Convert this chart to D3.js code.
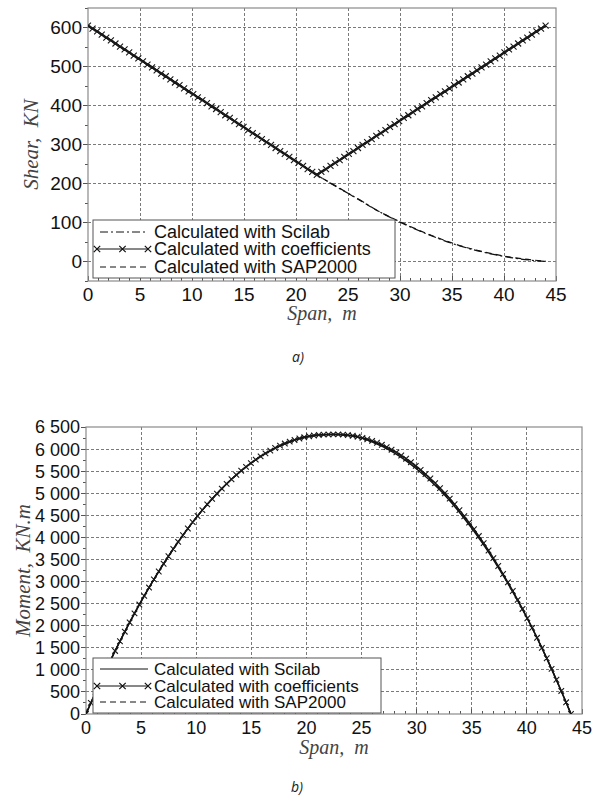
<!DOCTYPE html>
<html><head><meta charset="utf-8">
<script src="https://cdn.jsdelivr.net/npm/d3@7"></script>
<style>
html,body{margin:0;padding:0;background:#fff;}
svg{display:block;}
</style></head>
<body>
<svg id="c" width="595" height="795"></svg>
<script>
// ---------- DATA ----------
const stationStep = 0.44; // m, station spacing of the "coefficients" series
const spanTicks = [0,5,10,15,20,25,30,35,40,45];
const shearTicks = [0,100,200,300,400,500,600];
const momentTicks = [0,500,1000,1500,2000,2500,3000,3500,4000,4500,5000,5500,6000,6500];

const shearCoef = [605,597,590,582,574,567,559,551,544,536,528,521,513,505,498,490,482,475,467,459,452,444,436,429,421,414,406,398,391,383,375,368,360,352,345,337,329,322,314,306,299,291,283,276,268,260,253,245,237,230,222,
230,237,245,253,260,268,276,283,291,299,306,314,322,329,337,345,352,360,368,375,383,391,398,406,414,421,429,436,444,452,459,467,475,482,490,498,505,513,521,528,536,544,551,559,567,574,582,590,597,605];

const curveSpan = [0,2,4,6,8,10,12,14,16,18,20,22,24,26,28,30,32,34,36,38,40,42,44];
const shearScilab = [605,570,535,501,466,431,396,361,326,292,257,222,190,160,128,101,77,56,38,24,13,5,0];
const shearSap    = [605,570,535,501,466,431,396,361,326,292,257,222,191,159,128,102,78,57,39,25,14,6,1];

const momentCoef = [0,251,496,737,972,1203,1428,1648,1864,2074,2279,2479,2674,2864,3049,3228,3403,3573,3737,3897,4051,4201,4345,4484,4618,4748,4872,4991,5105,5213,5317,5416,5510,5598,5682,5760,5834,5902,5965,6024,6077,6125,6168,6206,6239,6267,6290,6307,6320,6327,6330,
6334,6334,6328,6318,6301,6280,6254,6222,6186,6144,6097,6044,5986,5924,5855,5782,5703,5619,5529,5434,5333,5229,5117,5001,4879,4750,4617,4479,4335,4185,4030,3869,3703,3530,3352,3170,2981,2786,2585,2379,2168,1950,1726,1497,1263,1021,775,522,265,0];

const momentScilab = [0,1099,2093,2982,3767,4447,5022,5493,5859,6121,6278,6330,6300,6160,5910,5550,5100,4530,3860,3070,2180,1150,0];
const momentSap    = [0,1099,2093,2982,3767,4447,5022,5493,5859,6121,6278,6330,6310,6175,5935,5580,5130,4560,3885,3090,2190,1155,0];

const legendLabels = ["Calculated with Scilab","Calculated with coefficients","Calculated with SAP2000"];

// ---------- DRAW ----------
const svg = d3.select("#c");
const frameColor = "#8a8a8a";
const gridColor = "#7a7a7a";
const sansFont = "'Liberation Sans', Arial, sans-serif";
const serifFont = "'Liberation Serif', 'DejaVu Serif', serif";

function crossPath(x, y, r){ return `M${x-r},${y-r}L${x+r},${y+r}M${x-r},${y+r}L${x+r},${y-r}`; }

function panel(opt){
  const g = svg.append("g");
  const x = d3.scaleLinear().domain([0,45]).range([opt.L, opt.R]);
  const y = d3.scaleLinear().domain(opt.yDomain).range([opt.B, opt.T]);
  const clipId = "clip" + opt.id;
  svg.append("clipPath").attr("id", clipId).append("rect")
    .attr("x", opt.L).attr("y", opt.T-4).attr("width", opt.R-opt.L+4).attr("height", opt.B-opt.T+4);

  // grid
  g.selectAll(".vg").data(spanTicks.filter(d=>d>0 && d<45)).join("line")
    .attr("x1", d=>x(d)).attr("x2", d=>x(d)).attr("y1", opt.T).attr("y2", opt.B)
    .attr("stroke", gridColor).attr("stroke-width",1).attr("stroke-dasharray","3,2").attr("shape-rendering","crispEdges");
  g.selectAll(".hg").data(opt.yTicks.filter(d=>y(d)>opt.T+1 && y(d)<opt.B-1)).join("line")
    .attr("x1", opt.L).attr("x2", opt.R).attr("y1", d=>y(d)).attr("y2", d=>y(d))
    .attr("stroke", gridColor).attr("stroke-width",1).attr("stroke-dasharray","3,2").attr("shape-rendering","crispEdges");

  // minor ticks
  const xMinor = d3.range(0, 46, 1);
  g.selectAll(".xm").data(xMinor).join("line")
    .attr("x1", d=>x(d)).attr("x2", d=>x(d)).attr("y1", opt.B).attr("y2", d=> d%5===0 ? opt.B-5 : opt.B-3)
    .attr("stroke", "#555").attr("stroke-width",1).attr("shape-rendering","crispEdges");
  const yMinor = d3.range(opt.yDomain[0], opt.yDomain[1]+1, opt.yMinorStep);
  g.selectAll(".ym").data(yMinor).join("line")
    .attr("x1", opt.L).attr("x2", d=> opt.yTicks.includes(d) ? opt.L-5 : opt.L-3).attr("y1", d=>y(d)).attr("y2", d=>y(d))
    .attr("stroke", "#555").attr("stroke-width",1).attr("shape-rendering","crispEdges");

  // frame
  g.append("rect").attr("x", opt.L).attr("y", opt.T).attr("width", opt.R-opt.L).attr("height", opt.B-opt.T)
    .attr("fill","none").attr("stroke", frameColor).attr("stroke-width",1.2);

  // tick labels
  g.selectAll(".xl").data(spanTicks).join("text")
    .attr("x", d=>x(d)).attr("y", opt.B + opt.xLabelDy)
    .attr("text-anchor","middle").attr("font-family", sansFont).attr("font-size", opt.tickSize).attr("fill","#111")
    .text(d=>d);
  g.selectAll(".yl").data(opt.yTicks).join("text")
    .attr("x", opt.L - 6).attr("y", d=>y(d)).attr("dy","0.36em")
    .attr("text-anchor","end").attr("font-family", sansFont).attr("font-size", opt.tickSize).attr("fill","#111")
    .text(d=>opt.fmt(d));

  // axis titles
  g.append("text").attr("x", (opt.L+opt.R)/2).attr("y", opt.B + opt.xTitleDy)
    .attr("text-anchor","middle").attr("font-family", serifFont).attr("font-style","italic")
    .attr("font-size", 20).attr("fill","#444").attr("xml:space","preserve").text("Span,  m");
  g.append("text").attr("transform", `translate(${opt.yTitleX},${(opt.T+opt.B)/2}) rotate(-90)`)
    .attr("text-anchor","middle").attr("font-family", serifFont).attr("font-style","italic")
    .attr("font-size", 21).attr("fill","#444").attr("xml:space","preserve").text(opt.yTitle);

  // series
  const plot = g.append("g").attr("clip-path", `url(#${clipId})`);
  const smooth = d3.line().x((d,i)=>x(curveSpan[i])).y(d=>y(d)).curve(d3.curveMonotoneX);
  const stationX = (i)=> i*stationStep;
  const straight = d3.line().x((d,i)=>x(stationX(i))).y(d=>y(d));

  plot.append("path").datum(opt.sap).attr("d", smooth)
    .attr("fill","none").attr("stroke","#111").attr("stroke-width",1.2).attr("stroke-dasharray","6,4");
  plot.append("path").datum(opt.scilab).attr("d", smooth)
    .attr("fill","none").attr("stroke","#111").attr("stroke-width",opt.scilabWidth).attr("stroke-dasharray", opt.scilabDash);
  plot.append("path").datum(opt.coef).attr("d", straight)
    .attr("fill","none").attr("stroke","#111").attr("stroke-width",opt.coefWidth);
  plot.append("path")
    .attr("d", opt.coef.map((d,i)=>crossPath(x(stationX(i)), y(d), opt.crossR)).join(""))
    .attr("fill","none").attr("stroke","#1a1a1a").attr("stroke-width",1.1);

  // legend
  const lg = g.append("g");
  lg.append("rect").attr("x", opt.leg.x).attr("y", opt.leg.y).attr("width", opt.leg.w).attr("height", opt.leg.h)
    .attr("fill","#fff").attr("stroke","#555").attr("stroke-width",1);
  const x0 = opt.leg.x + 4, x1 = opt.leg.x + 55;
  legendLabels.forEach((lab,i)=>{
    const yy = opt.leg.rows[i];
    if(i===0){
      lg.append("line").attr("x1",x0+3).attr("x2",x1).attr("y1",yy).attr("y2",yy)
        .attr("stroke","#111").attr("stroke-width",1).attr("stroke-dasharray", opt.scilabLegendDash);
    } else if(i===1){
      lg.append("line").attr("x1",x0).attr("x2",x1).attr("y1",yy).attr("y2",yy)
        .attr("stroke","#111").attr("stroke-width",1);
      [x0, (x0+x1)/2, x1].forEach(cx=>{
        lg.append("path").attr("d", crossPath(cx, yy, 3.2)).attr("stroke","#111").attr("stroke-width",1.2);
      });
    } else {
      lg.append("line").attr("x1",x0+3).attr("x2",x1).attr("y1",yy).attr("y2",yy)
        .attr("stroke","#111").attr("stroke-width",1).attr("stroke-dasharray","6,4");
    }
    lg.append("text").attr("x", opt.leg.x + 61).attr("y", yy).attr("dy","0.36em")
      .attr("font-family", sansFont).attr("font-size", opt.legSize).attr("fill","#111").text(lab);
  });
}

const spaceFmt = d3.formatLocale({decimal:".", thousands:"\u2009", grouping:[3], currency:["",""]}).format(",");

panel({
  id:"a", L:88, R:556, T:8, B:281, yDomain:[-50,650], yTicks:shearTicks, yMinorStep:50,
  fmt: d=>String(d), tickSize:19, xLabelDy:20, xTitleDy:39, yTitleX:38, yTitle:"Shear,  KN",
  coef: shearCoef, scilab: shearScilab, sap: shearSap, crossR:3,
  coefWidth:2.2, scilabWidth:1.2, scilabDash:"8,3,2,3", scilabLegendDash:"8,3,2,3",
  leg:{x:93, y:220, w:302, h:58, rows:[232,249,267]}, legSize:18
});

panel({
  id:"b", L:86, R:582, T:427, B:714, yDomain:[0,6500], yTicks:momentTicks, yMinorStep:250,
  fmt: d=>spaceFmt(d).replace("\u2009"," "), tickSize:18, xLabelDy:20, xTitleDy:40, yTitleX:30, yTitle:"Moment,  KN.m",
  coef: momentCoef, scilab: momentScilab, sap: momentSap, crossR:2.8,
  coefWidth:1.5, scilabWidth:1.4, scilabDash:null, scilabLegendDash:null,
  leg:{x:93, y:658, w:288, h:55, rows:[669,686,702]}, legSize:17
});

// captions
svg.append("text").attr("x",298).attr("y",362).attr("text-anchor","middle")
  .attr("font-family","'Open Sans', sans-serif").attr("font-style","italic").attr("font-size",14).attr("fill","#222").text("a)");
svg.append("text").attr("x",297).attr("y",792).attr("text-anchor","middle")
  .attr("font-family","'Open Sans', sans-serif").attr("font-style","italic").attr("font-size",14).attr("fill","#222").text("b)");
</script>
</body></html>
